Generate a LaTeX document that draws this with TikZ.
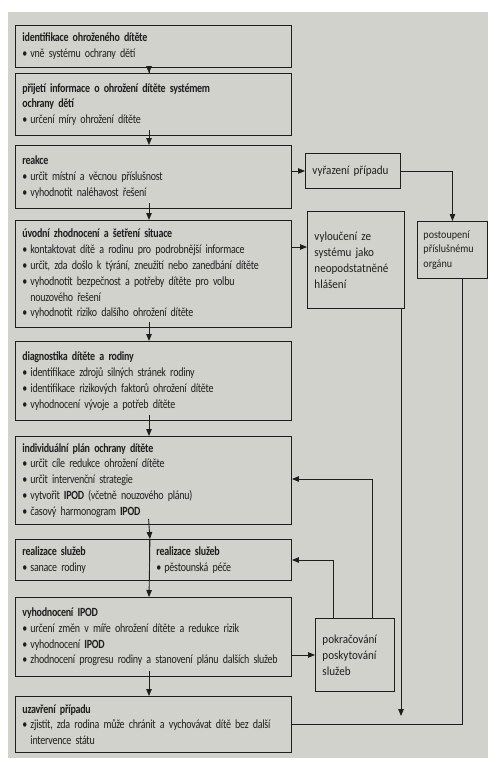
\documentclass[tikz,border=0pt]{standalone}
\usepackage{fontspec}
\usetikzlibrary{arrows.meta}
\newfontfamily\boxfont[FakeStretch=0.8,LetterSpace=-2]{Carlito}
\newfontfamily\sidefont[FakeStretch=0.9]{Carlito}
\definecolor{ink}{RGB}{30,30,30}
\definecolor{paper}{RGB}{210,210,205}
\newcommand\bul{\makebox[8pt][l]{\textbullet}}
\newcommand\cont{\hspace*{8pt}}
\begin{document}
\begin{tikzpicture}[x=1pt,y=-1pt,
  box/.style={draw=ink, line width=0.95pt, anchor=north west, inner xsep=7pt, inner ysep=0pt,
    align=left, font={\boxfont\fontsize{12.5}{15.8}\selectfont}, text=ink},
  sidebox/.style={box, font={\sidefont\fontsize{12.3}{16}\selectfont}},
  smallbox/.style={box, inner xsep=6pt, font={\sidefont\fontsize{11.2}{14.5}\selectfont}},
  arr/.style={draw=ink, line width=0.85pt, -{Triangle[length=7pt,width=5.5pt]}},
  link/.style={draw=ink, line width=0.85pt},
  stub/.style={shorten <=-6pt}]
% page
\useasboundingbox (0,0) rectangle (489,758);
\fill[white] (0,0) rectangle (489,758);
\fill[paper] (8,12) rectangle (488,758);

% main column
\node[box, text width=262pt, minimum height=42pt] (n1) at (15,25)
  {\textbf{identifikace ohroženého dítěte}\\
   \bul vně systému ochrany dětí};
\node[box, text width=262pt, minimum height=62pt] (n2) at (15,73)
  {\textbf{přijetí informace o ohrožení dítěte systémem}\\
   \textbf{ochrany dětí}\\
   \bul určení míry ohrožení dítěte};
\node[box, text width=262pt, minimum height=63pt] (n3) at (15,145)
  {\textbf{reakce}\\
   \bul určit místní a věcnou příslušnost\\
   \bul vyhodnotit naléhavost řešení};
\node[box, text width=262pt, minimum height=107pt] (n4) at (15,220)
  {\textbf{úvodní zhodnocení a šetření situace}\\
   \bul kontaktovat dítě a rodinu pro podrobnější informace\\
   \bul určit, zda došlo k týrání, zneužití nebo zanedbání dítěte\\
   \bul vyhodnotit bezpečnost a potřeby dítěte pro volbu\\
   \cont nouzového řešení\\
   \bul vyhodnotit riziko dalšího ohrožení dítěte};
\node[box, text width=262pt, minimum height=79pt] (n5) at (15,341)
  {\textbf{diagnostika dítěte a rodiny}\\
   \bul identifikace zdrojů silných stránek rodiny\\
   \bul identifikace rizikových faktorů ohrožení dítěte\\
   \bul vyhodnocení vývoje a potřeb dítěte};
\node[box, text width=262pt, minimum height=88pt] (n6) at (15,436)
  {\textbf{individuální plán ochrany dítěte}\\
   \bul určit cíle redukce ohrožení dítěte\\
   \bul určit intervenční strategie\\
   \bul vytvořit \textbf{IPOD} (včetně nouzového plánu)\\
   \bul časový harmonogram \textbf{IPOD}};
\node[box, text width=120pt, minimum height=41pt] (r1) at (15,539)
  {\textbf{realizace služeb}\\
   \bul sanace rodiny};
\node[box, text width=128pt, minimum height=41pt] (r2) at (149,539)
  {\textbf{realizace služeb}\\
   \bul pěstounská péče};
\node[box, text width=262pt, minimum height=79pt] (n8) at (15,597)
  {\textbf{vyhodnocení IPOD}\\
   \bul určení změn v míře ohrožení dítěte a redukce rizik\\
   \bul vyhodnocení \textbf{IPOD}\\
   \bul zhodnocení progresu rodiny a stanovení plánu dalších služeb};
\node[box, text width=262pt, minimum height=56pt] (n9) at (15,696)
  {\textbf{uzavření případu}\\
   \bul zjistit, zda rodina může chránit a vychovávat dítě bez další\\
   \cont intervence státu};

% side column
\node[sidebox, text width=81pt, minimum height=35pt] (vyr) at (305,153)
  {\mbox{vyřazení případu}};
\node[sidebox, text width=83pt, minimum height=97pt] (vyl) at (307,211)
  {vyloučení ze\\ systému jako\\ \mbox{neopodstatněné}\\ hlášení};
\node[smallbox, text width=58pt, minimum height=57pt] (post) at (417,221)
  {postoupení\\ \mbox{příslušnému}\\ orgánu};
\node[sidebox, text width=65pt, minimum height=73pt] (pok) at (315,618)
  {pokračování\\ poskytování\\ služeb};

% helper points
\coordinate (colx) at (149,0);
\coordinate (vylend) at (401,716);
\coordinate (postx) at (462,0);
\coordinate (y247) at (0,247);
\coordinate (upA) at (372,479);
\coordinate (upB) at (333,560);

% main flow
\draw[arr,stub] (colx |- n1.south) -- (colx |- n2.north);
\draw[arr,stub] (colx |- n2.south) -- (colx |- n3.north);
\draw[arr,stub] (colx |- n3.south) -- (colx |- n4.north);
\draw[arr,stub] (colx |- n4.south) -- (colx |- n5.north);
\draw[arr,stub] (colx |- n5.south) -- (colx |- n6.north);
\draw[arr,stub] (colx |- n6.south) -- (r1.north east);
\draw[arr] (r1.north east) -- (colx |- n8.north);
\draw[arr,stub] (colx |- n8.south) -- (colx |- n9.north);

% side branches
\draw[arr] (vyr.west -| n3.east) -- (vyr.west);
\draw[arr] (y247 -| n4.east) -- (y247 -| vyl.west);
\draw[arr] (vyr.east) -- (vyr.east -| post.north) -- (post.north);
\draw[arr] (vylend |- vyl.south) -- (vylend);
\draw[link] (postx |- post.south) -- (postx |- n9.east) -- (n9.east);
\draw[arr] (pok.west -| n8.east) -- (pok.west);
\draw[arr] (upA |- pok.north) -- (upA) -- (upA -| n6.east);
\draw[arr] (upB |- pok.north) -- (upB) -- (upB -| r2.east);
\end{tikzpicture}
\end{document}
